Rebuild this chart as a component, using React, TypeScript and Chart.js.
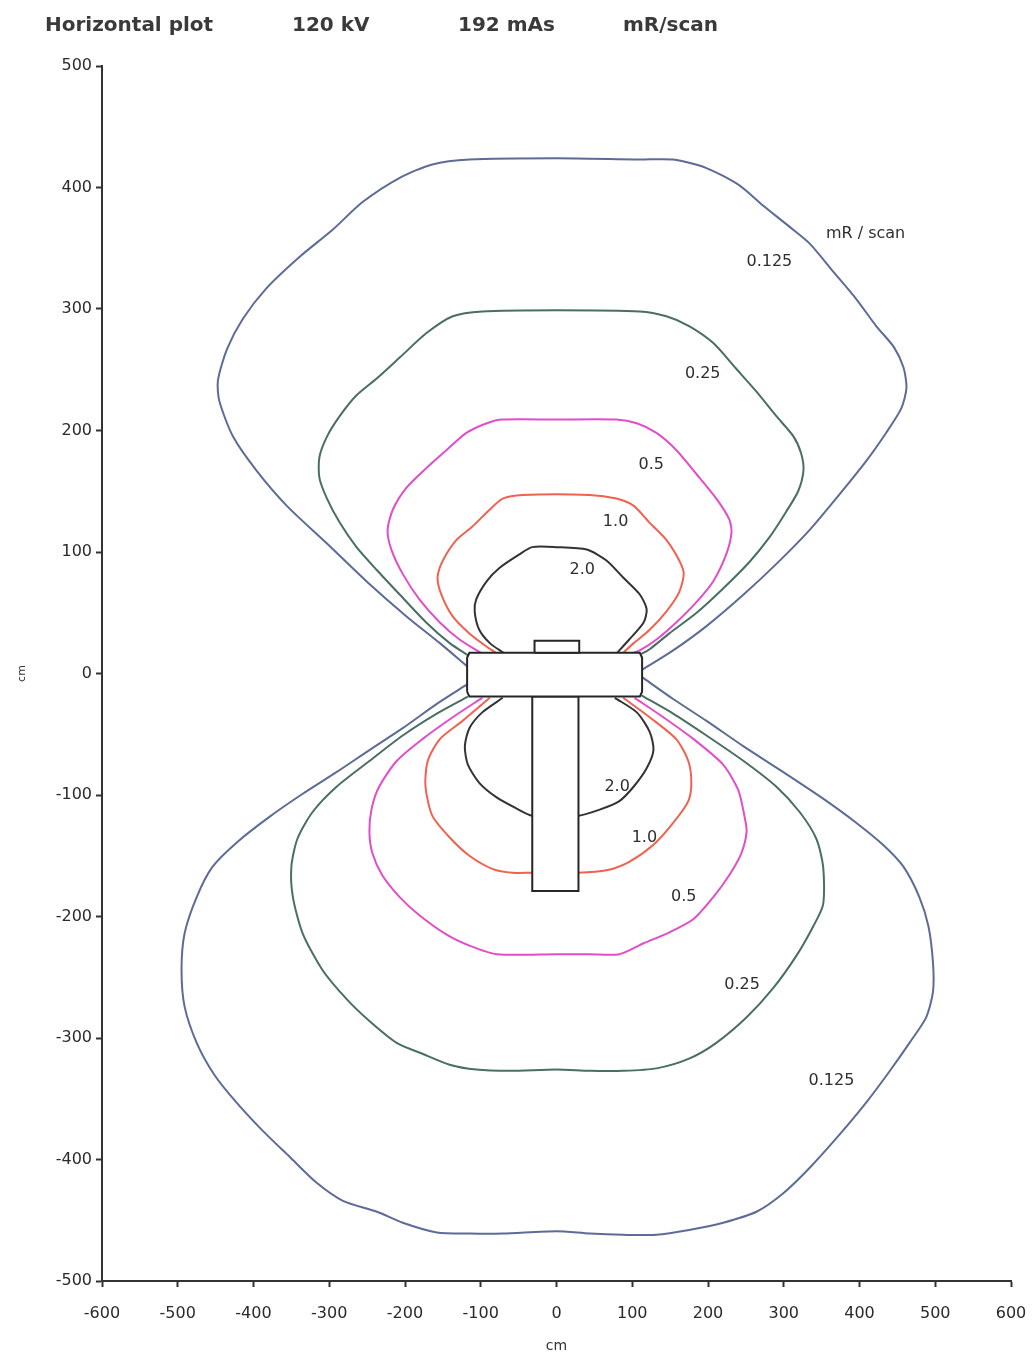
import React, { useEffect, useRef } from "react";
import { Chart, registerables } from "chart.js";

Chart.register(...registerables);

type Pt = [number, number];

// Axis ranges
const xMin = -600;
const xMax = 600;
const yMin = -500;
const yMax = 500;
const tickStep = 100;

// Header texts
const headerTexts = ["Horizontal plot", "120 kV", "192 mAs", "mR/scan"];

// Isodose contours (cm), upper lobe (above gantry) and lower lobe
const c0125Upper: Pt[] = [
  [-118, 6], [-154, 25], [-198, 47], [-251, 76], [-303, 107], [-356, 138], [-396, 167],
  [-427, 195], [-445, 224], [-447, 241], [-435, 267], [-414, 292], [-383, 317], [-339, 343],
  [-296, 365], [-256, 388], [-207, 408], [-164, 419], [-115, 423], [0, 424], [110, 423],
  [154, 423], [198, 416], [241, 402], [273, 385], [307, 368], [334, 354], [365, 331],
  [396, 308], [422, 286], [445, 269], [458, 252], [462, 235], [455, 218], [435, 198],
  [409, 175], [373, 147], [334, 118], [290, 90], [247, 65], [198, 39], [154, 19], [113, 3],
];
const c0125Lower: Pt[] = [
  [-118, -9], [-158, -25], [-203, -45], [-247, -63], [-290, -81], [-335, -99], [-379, -118],
  [-422, -139], [-454, -159], [-475, -184], [-491, -214], [-495, -244], [-491, -274],
  [-475, -304], [-452, -330], [-424, -352], [-390, -375], [-352, -398], [-317, -419],
  [-282, -434], [-237, -443], [-203, -452], [-158, -460], [-115, -461], [-71, -461],
  [0, -459], [44, -461], [88, -462], [132, -462], [175, -458], [220, -452], [264, -443],
  [299, -428], [334, -407], [373, -380], [409, -353], [439, -328], [466, -304], [488, -283],
  [497, -262], [497, -238], [491, -208], [479, -184], [458, -159], [431, -141], [396, -123],
  [352, -103], [299, -81], [247, -60], [198, -39], [154, -21], [113, -3],
];
const c025Upper: Pt[] = [
  [-117, 15], [-141, 25], [-172, 42], [-207, 65], [-237, 85], [-264, 104], [-286, 124],
  [-303, 144], [-313, 161], [-313, 178], [-303, 195], [-286, 212], [-264, 229], [-237, 243],
  [-207, 260], [-172, 280], [-137, 294], [-98, 298], [0, 299], [110, 298], [145, 294],
  [175, 286], [207, 272], [237, 251], [264, 232], [290, 212], [313, 195], [323, 181],
  [326, 167], [319, 150], [303, 133], [281, 112], [255, 92], [220, 70], [185, 50],
  [149, 33], [123, 20], [112, 16],
];
const c025Lower: Pt[] = [
  [-117, -19], [-158, -33], [-203, -51], [-247, -72], [-290, -93], [-322, -114], [-342, -136],
  [-350, -159], [-348, -184], [-335, -214], [-309, -244], [-277, -268], [-247, -286],
  [-211, -304], [-177, -313], [-141, -322], [-106, -326], [-62, -327], [0, -326], [44, -327],
  [88, -327], [132, -325], [175, -317], [211, -304], [251, -283], [286, -259], [317, -232],
  [339, -208], [352, -190], [352, -159], [343, -136], [321, -114], [290, -93], [247, -72],
  [198, -51], [154, -33], [112, -18],
];
const c05Upper: Pt[] = [
  [-100, 17], [-128, 28], [-154, 42], [-181, 61], [-203, 82], [-218, 102], [-223, 118],
  [-216, 135], [-198, 153], [-172, 169], [-145, 184], [-119, 198], [-92, 206], [-71, 209],
  [0, 209], [79, 209], [106, 206], [132, 198], [158, 184], [185, 164], [211, 144], [228, 127],
  [231, 116], [224, 98], [207, 76], [185, 59], [158, 42], [132, 28], [110, 19], [101, 17],
];
const c05Lower: Pt[] = [
  [-98, -20], [-137, -36], [-177, -54], [-211, -72], [-234, -93], [-244, -111], [-247, -130],
  [-243, -148], [-230, -166], [-207, -184], [-181, -199], [-145, -215], [-115, -224],
  [-79, -231], [0, -231], [44, -231], [83, -231], [115, -222], [149, -213], [181, -202],
  [207, -184], [228, -166], [244, -148], [251, -130], [248, -117], [240, -96], [220, -75],
  [181, -54], [141, -36], [103, -20],
];
const c1Upper: Pt[] = [
  [-80, 17], [-92, 22], [-115, 33], [-137, 47], [-152, 65], [-157, 79], [-150, 93],
  [-132, 110], [-111, 121], [-88, 135], [-71, 144], [-45, 147], [44, 147], [79, 144],
  [102, 138], [123, 124], [145, 110], [162, 93], [168, 82], [162, 67], [145, 51], [123, 36],
  [102, 25], [88, 17],
];
const c1Lower: Pt[] = [
  [-88, -20], [-124, -39], [-154, -54], [-170, -72], [-173, -93], [-164, -117], [-141, -135],
  [-115, -150], [-84, -161], [-58, -164], [-32, -164], [28, -164], [66, -162], [96, -155],
  [128, -141], [154, -123], [174, -105], [178, -90], [174, -72], [158, -54], [123, -36],
  [88, -20],
];
const c2Upper: Pt[] = [
  [-70, 17], [-88, 25], [-102, 36], [-108, 51], [-106, 61], [-92, 76], [-75, 87], [-49, 98],
  [-32, 104], [0, 104], [40, 102], [66, 93], [88, 79], [110, 65], [119, 53], [115, 42],
  [96, 28], [80, 17],
];
const c2Lower: Pt[] = [
  [-71, -20], [-98, -32], [-115, -45], [-121, -60], [-117, -75], [-102, -90], [-79, -102],
  [-53, -111], [-32, -117], [29, -117], [57, -112], [83, -105], [102, -93], [119, -78],
  [128, -63], [123, -48], [106, -32], [77, -20],
];

// Scanner outline (cm)
const gantry: Pt[] = [
  [-118, -15], [-118, 13], [-115, 17], [110, 17], [113, 13], [113, -15], [110, -19],
  [-115, -19], [-118, -15],
];
const gantryTop: Pt[] = [[-29, 17], [-29, 27], [30, 27], [30, 17], [-29, 17]];
const table: Pt[] = [[-32, -19], [-32, -179], [29, -179], [29, -19], [-32, -19]];

// Contour labels (cm)
const labelTexts = ["mR / scan", "0.125", "0.25", "0.5", "1.0", "2.0", "2.0", "1.0", "0.5", "0.25", "0.125"];
const labelX = [408, 281, 193, 125, 78, 34, 80, 116, 168, 245, 363];
const labelY = [362, 339, 247, 172, 125, 85, -93, -135, -184, -256, -335];

const toXY = (pts: Pt[]) => pts.map(([x, y]) => ({ x, y }));

const COLORS = {
  c0125: "#5d6b97",
  c025: "#4a6e62",
  c05: "#e04ec9",
  c1: "#f0624f",
  c2: "#333333",
  outline: "#262626",
};

export default function App() {
  const ref = useRef<HTMLCanvasElement | null>(null);

  useEffect(() => {
    const canvas = ref.current;
    if (!canvas) return;

    const contour = (data: Pt[], color: string) => ({
      data: toXY(data),
      showLine: true,
      borderColor: color,
      borderWidth: 2,
      pointRadius: 0,
      tension: 0.25,
      fill: false,
    });
    const shape = (data: Pt[]) => ({
      data: toXY(data),
      showLine: true,
      borderColor: COLORS.outline,
      borderWidth: 2,
      pointRadius: 0,
      tension: 0,
      fill: "shape",
      backgroundColor: "#ffffff",
    });

    const textPlugin = {
      id: "texts",
      afterDatasetsDraw(chart: any) {
        const { ctx } = chart;
        const xs = chart.scales.x;
        const ys = chart.scales.y;
        ctx.save();
        ctx.fillStyle = "#2e2e2e";
        ctx.font = "16px 'DejaVu Sans'";
        ctx.textAlign = "center";
        ctx.textBaseline = "middle";
        labelTexts.forEach((t, i) => {
          ctx.fillText(t, xs.getPixelForValue(labelX[i]), ys.getPixelForValue(labelY[i]));
        });
        ctx.restore();
      },
      afterDraw(chart: any) {
        const { ctx } = chart;
        ctx.save();
        ctx.fillStyle = "#3a3a3a";
        ctx.font = "bold 20px 'DejaVu Sans'";
        ctx.textAlign = "left";
        ctx.textBaseline = "alphabetic";
        const lefts = [45, 292, 458, 623];
        headerTexts.forEach((t, i) => ctx.fillText(t, lefts[i], 31));
        ctx.restore();
      },
    };

    const tickFont = { family: "'DejaVu Sans'", size: 16 };

    const chart = new Chart(canvas, {
      type: "scatter",
      data: {
        datasets: [
          shape(gantryTop),
          shape(gantry),
          shape(table),
          contour(c2Upper, COLORS.c2),
          contour(c2Lower, COLORS.c2),
          contour(c1Upper, COLORS.c1),
          contour(c1Lower, COLORS.c1),
          contour(c05Upper, COLORS.c05),
          contour(c05Lower, COLORS.c05),
          contour(c025Upper, COLORS.c025),
          contour(c025Lower, COLORS.c025),
          contour(c0125Upper, COLORS.c0125),
          contour(c0125Lower, COLORS.c0125),
        ] as any,
      },
      options: {
        animation: false,
        responsive: false,
        maintainAspectRatio: false,
        layout: { padding: { top: 66, right: 22, left: 0, bottom: 0 } },
        plugins: {
          legend: { display: false },
          tooltip: { enabled: false },
          title: { display: false },
        },
        scales: {
          x: {
            type: "linear",
            min: xMin,
            max: xMax,
            afterFit: (s: any) => {
              s.height = 79;
              s.paddingLeft = 0;
              s.paddingRight = 0;
            },
            ticks: {
              stepSize: tickStep,
              color: "#2a2a2a",
              font: tickFont,
              padding: 17,
              maxRotation: 0,
              autoSkip: false,
            },
            grid: {
              display: true,
              drawOnChartArea: false,
              drawTicks: true,
              tickLength: 6,
              tickColor: "#333333",
              tickWidth: 2,
            },
            border: { display: true, color: "#333333", width: 2 },
            title: {
              display: true,
              text: "cm",
              color: "#333333",
              font: { family: "'DejaVu Sans'", size: 14 },
              padding: { top: 0, bottom: 5 },
            },
          },
          y: {
            type: "linear",
            min: yMin,
            max: yMax,
            afterFit: (s: any) => {
              s.width = 102;
            },
            ticks: {
              stepSize: tickStep,
              color: "#2a2a2a",
              font: tickFont,
              padding: 4,
              autoSkip: false,
            },
            grid: {
              display: true,
              drawOnChartArea: false,
              drawTicks: true,
              tickLength: 6,
              tickColor: "#333333",
              tickWidth: 2,
            },
            border: { display: true, color: "#333333", width: 2 },
            title: {
              display: true,
              text: "cm",
              color: "#333333",
              font: { family: "'DejaVu Sans'", size: 11 },
              padding: { top: 16, bottom: 0 },
            },
          },
        },
      } as any,
      plugins: [textPlugin],
    });

    return () => chart.destroy();
  }, []);

  return (
    <div style={{ position: "fixed", left: 0, top: 0, width: 1033, height: 1360, background: "#ffffff" }}>
      <canvas ref={ref} width={1033} height={1360} style={{ display: "block" }} />
    </div>
  );
}
